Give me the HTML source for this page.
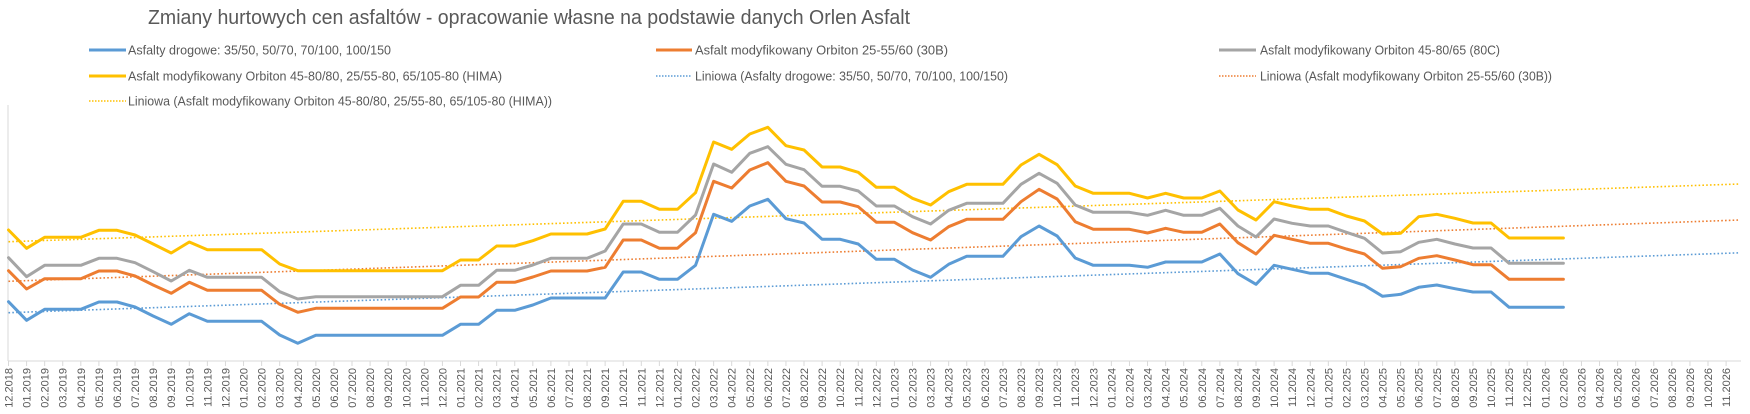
<!DOCTYPE html>
<html><head><meta charset="utf-8"><style>
html,body{margin:0;padding:0;background:#fff;}
svg{display:block;font-family:"Liberation Sans",sans-serif;}
</style></head><body>
<svg width="1750" height="414" viewBox="0 0 1750 414" xmlns="http://www.w3.org/2000/svg">
<text x="148" y="24" font-size="20" fill="#595959" textLength="762" lengthAdjust="spacingAndGlyphs">Zmiany hurtowych cen asfaltów - opracowanie własne na podstawie danych Orlen Asfalt</text>
<g font-size="12.5" fill="#595959">
<line x1="89" y1="50" x2="126" y2="50" stroke="#5b9bd5" stroke-width="3"/>
<text x="128" y="54.5" textLength="263" lengthAdjust="spacingAndGlyphs">Asfalty drogowe: 35/50, 50/70, 70/100, 100/150</text>
<line x1="656" y1="50" x2="692" y2="50" stroke="#ed7d31" stroke-width="3"/>
<text x="695" y="54.5" textLength="253" lengthAdjust="spacingAndGlyphs">Asfalt modyfikowany Orbiton 25-55/60 (30B)</text>
<line x1="1219" y1="50" x2="1256" y2="50" stroke="#a5a5a5" stroke-width="3"/>
<text x="1260" y="54.5" textLength="240" lengthAdjust="spacingAndGlyphs">Asfalt modyfikowany Orbiton 45-80/65 (80C)</text>
<line x1="89" y1="76" x2="126" y2="76" stroke="#ffc000" stroke-width="3"/>
<text x="128" y="80.5" textLength="374" lengthAdjust="spacingAndGlyphs">Asfalt modyfikowany Orbiton 45-80/80, 25/55-80, 65/105-80 (HIMA)</text>
<line x1="656" y1="76" x2="692" y2="76" stroke="#5b9bd5" stroke-width="1.5" stroke-dasharray="1.5 1.5"/>
<text x="695" y="80.5" textLength="313" lengthAdjust="spacingAndGlyphs">Liniowa (Asfalty drogowe: 35/50, 50/70, 70/100, 100/150)</text>
<line x1="1219" y1="76" x2="1256" y2="76" stroke="#ed7d31" stroke-width="1.5" stroke-dasharray="1.5 1.5"/>
<text x="1260" y="80.5" textLength="292" lengthAdjust="spacingAndGlyphs">Liniowa (Asfalt modyfikowany Orbiton 25-55/60 (30B))</text>
<line x1="89" y1="101" x2="126" y2="101" stroke="#ffc000" stroke-width="1.5" stroke-dasharray="1.5 1.5"/>
<text x="128" y="105.5" textLength="424" lengthAdjust="spacingAndGlyphs">Liniowa (Asfalt modyfikowany Orbiton 45-80/80, 25/55-80, 65/105-80 (HIMA))</text>
</g>
<!-- axes -->
<line x1="8" y1="105" x2="8" y2="361" stroke="#d9d9d9" stroke-width="1"/>
<line x1="8" y1="361" x2="1741" y2="361" stroke="#d9d9d9" stroke-width="1"/>
<g transform="translate(8.5,0) scale(18.08,1)">
<path d="M0,361v5M1,361v5M2,361v5M3,361v5M4,361v5M5,361v5M6,361v5M7,361v5M8,361v5M9,361v5M10,361v5M11,361v5M12,361v5M13,361v5M14,361v5M15,361v5M16,361v5M17,361v5M18,361v5M19,361v5M20,361v5M21,361v5M22,361v5M23,361v5M24,361v5M25,361v5M26,361v5M27,361v5M28,361v5M29,361v5M30,361v5M31,361v5M32,361v5M33,361v5M34,361v5M35,361v5M36,361v5M37,361v5M38,361v5M39,361v5M40,361v5M41,361v5M42,361v5M43,361v5M44,361v5M45,361v5M46,361v5M47,361v5M48,361v5M49,361v5M50,361v5M51,361v5M52,361v5M53,361v5M54,361v5M55,361v5M56,361v5M57,361v5M58,361v5M59,361v5M60,361v5M61,361v5M62,361v5M63,361v5M64,361v5M65,361v5M66,361v5M67,361v5M68,361v5M69,361v5M70,361v5M71,361v5M72,361v5M73,361v5M74,361v5M75,361v5M76,361v5M77,361v5M78,361v5M79,361v5M80,361v5M81,361v5M82,361v5M83,361v5M84,361v5M85,361v5M86,361v5M87,361v5M88,361v5M89,361v5M90,361v5M91,361v5M92,361v5M93,361v5M94,361v5M95,361v5" stroke="#d9d9d9" stroke-width="1" vector-effect="non-scaling-stroke" fill="none"/>
</g>
<!-- trend lines -->
<g stroke-width="1.6" stroke-dasharray="1.6 2.2" fill="none">
<line x1="8.5" y1="241.7" x2="1740" y2="184" stroke="#ffc000"/>
<line x1="8.5" y1="281.3" x2="1740" y2="220" stroke="#ed7d31"/>
<line x1="8.5" y1="312.7" x2="1740" y2="252.8" stroke="#5b9bd5"/>
</g>
<g transform="translate(8.5,0) scale(18.08,1)" fill="none" stroke-width="3" stroke-linejoin="round" stroke-linecap="round">
<polyline vector-effect="non-scaling-stroke" stroke="#5b9bd5" points="0,301.7 1,320.3 2,309.3 3,309.3 4,309.3 5,302 6,302 7,307 8,316 9,324.3 10,313.7 11,321.3 12,321.3 13,321.3 14,321.3 15,335 16,343.3 17,335.3 18,335.3 19,335.3 20,335.3 21,335.3 22,335.3 23,335.3 24,335.3 25,324.3 26,324.3 27,310.3 28,310.3 29,305 30,298 31,298 32,298 33,298 34,272 35,272 36,279.3 37,279.3 38,265.3 39,214.3 40,221.3 41,206 42,199.3 43,218.7 44,223 45,239.3 46,239.3 47,244 48,259.3 49,259.3 50,270 51,277.3 52,264.3 53,256.3 54,256.3 55,256.3 56,236.7 57,226 58,236 59,258 60,265.3 61,265.3 62,265.3 63,267.3 64,262 65,262 66,262 67,254 68,273.7 69,284.3 70,265.3 71,269.3 72,273.3 73,273.3 74,279.3 75,285.3 76,296.3 77,294.3 78,287.3 79,285 80,288.7 81,292 82,292 83,307.3 84,307.3 85,307.3 86,307.3"/>
<polyline vector-effect="non-scaling-stroke" stroke="#ed7d31" points="0,270.7 1,289 2,278.7 3,278.7 4,278.7 5,271 6,271 7,276 8,285 9,293.3 10,282.3 11,290.3 12,290.3 13,290.3 14,290.3 15,304.3 16,312.3 17,308.3 18,308.3 19,308.3 20,308.3 21,308.3 22,308.3 23,308.3 24,308.3 25,297 26,297 27,282.3 28,282.3 29,277 30,271 31,271 32,271 33,267.3 34,240 35,240 36,248.3 37,248.3 38,232.7 39,181.3 40,188 41,170 42,162.7 43,181.3 44,186 45,202 46,202 47,206.7 48,222.3 49,222.3 50,232.7 51,240 52,226.7 53,219.3 54,219.3 55,219.3 56,201.7 57,189.3 58,199 59,221.7 60,229.3 61,229.3 62,229.3 63,233 64,228.3 65,232.3 66,232.3 67,224 68,242.7 69,254 70,235.3 71,239.3 72,243.3 73,243.3 74,249 75,254 76,268.3 77,266.7 78,258.3 79,255.7 80,260 81,264.7 82,264.7 83,279.3 84,279.3 85,279.3 86,279.3"/>
<polyline vector-effect="non-scaling-stroke" stroke="#a5a5a5" points="0,257.7 1,276.7 2,265.3 3,265.3 4,265.3 5,258.3 6,258.3 7,262.7 8,271.7 9,281 10,270.3 11,277.3 12,277.3 13,277.3 14,277.3 15,291.7 16,299 17,296.7 18,296.7 19,296.7 20,296.7 21,296.7 22,296.7 23,296.7 24,296.7 25,285.3 26,285.3 27,270.3 28,270.3 29,265 30,258.3 31,258.3 32,258.3 33,251 34,224 35,224 36,232.3 37,232.3 38,215 39,164 40,172.3 41,153.3 42,146.7 43,164.3 44,169.7 45,186.3 46,186.3 47,191 48,206 49,206 50,216.7 51,224 52,210.3 53,203.3 54,203.3 55,203.3 56,184.3 57,173.3 58,183.3 59,205 60,212.3 61,212.3 62,212.3 63,215.3 64,210.3 65,215.3 66,215.3 67,208.3 68,226 69,237 70,219 71,223.3 72,226 73,226 74,232.3 75,238.3 76,253 77,251.7 78,242.3 79,239.3 80,244 81,248 82,248 83,263.3 84,263.3 85,263.3 86,263.3"/>
<polyline vector-effect="non-scaling-stroke" stroke="#ffc000" points="0,230 1,248.3 2,237.3 3,237.3 4,237.3 5,230.3 6,230.3 7,235 8,244 9,253 10,242 11,249.7 12,249.7 13,249.7 14,249.7 15,264 16,270.7 17,270.7 18,270.7 19,270.7 20,270.7 21,270.7 22,270.7 23,270.7 24,270.7 25,260 26,260 27,246 28,246 29,240.7 30,234 31,234 32,234 33,229 34,201.3 35,201.3 36,209.3 37,209.3 38,192.7 39,142 40,149.3 41,134 42,127.3 43,145.7 44,150 45,167 46,167 47,172.3 48,187.3 49,187.3 50,198.3 51,205 52,191.7 53,184.3 54,184.3 55,184.3 56,165 57,154.3 58,164.7 59,186 60,193.3 61,193.3 62,193.3 63,198 64,193.3 65,198 66,198 67,191 68,210 69,220 70,201.7 71,206 72,209.3 73,209.3 74,216 75,221 76,234 77,233.3 78,216.7 79,214.3 80,218.3 81,223 82,223 83,238 84,238 85,238 86,238"/>
</g>
<g font-size="11" fill="#595959" text-anchor="end">
<text transform="translate(12.5,368) rotate(-90)">12.2018</text>
<text transform="translate(30.6,368) rotate(-90)">01.2019</text>
<text transform="translate(48.7,368) rotate(-90)">02.2019</text>
<text transform="translate(66.7,368) rotate(-90)">03.2019</text>
<text transform="translate(84.8,368) rotate(-90)">04.2019</text>
<text transform="translate(102.9,368) rotate(-90)">05.2019</text>
<text transform="translate(121.0,368) rotate(-90)">06.2019</text>
<text transform="translate(139.1,368) rotate(-90)">07.2019</text>
<text transform="translate(157.1,368) rotate(-90)">08.2019</text>
<text transform="translate(175.2,368) rotate(-90)">09.2019</text>
<text transform="translate(193.3,368) rotate(-90)">10.2019</text>
<text transform="translate(211.4,368) rotate(-90)">11.2019</text>
<text transform="translate(229.5,368) rotate(-90)">12.2019</text>
<text transform="translate(247.5,368) rotate(-90)">01.2020</text>
<text transform="translate(265.6,368) rotate(-90)">02.2020</text>
<text transform="translate(283.7,368) rotate(-90)">03.2020</text>
<text transform="translate(301.8,368) rotate(-90)">04.2020</text>
<text transform="translate(319.9,368) rotate(-90)">05.2020</text>
<text transform="translate(337.9,368) rotate(-90)">06.2020</text>
<text transform="translate(356.0,368) rotate(-90)">07.2020</text>
<text transform="translate(374.1,368) rotate(-90)">08.2020</text>
<text transform="translate(392.2,368) rotate(-90)">09.2020</text>
<text transform="translate(410.3,368) rotate(-90)">10.2020</text>
<text transform="translate(428.3,368) rotate(-90)">11.2020</text>
<text transform="translate(446.4,368) rotate(-90)">12.2020</text>
<text transform="translate(464.5,368) rotate(-90)">01.2021</text>
<text transform="translate(482.6,368) rotate(-90)">02.2021</text>
<text transform="translate(500.7,368) rotate(-90)">03.2021</text>
<text transform="translate(518.7,368) rotate(-90)">04.2021</text>
<text transform="translate(536.8,368) rotate(-90)">05.2021</text>
<text transform="translate(554.9,368) rotate(-90)">06.2021</text>
<text transform="translate(573.0,368) rotate(-90)">07.2021</text>
<text transform="translate(591.1,368) rotate(-90)">08.2021</text>
<text transform="translate(609.1,368) rotate(-90)">09.2021</text>
<text transform="translate(627.2,368) rotate(-90)">10.2021</text>
<text transform="translate(645.3,368) rotate(-90)">11.2021</text>
<text transform="translate(663.4,368) rotate(-90)">12.2021</text>
<text transform="translate(681.5,368) rotate(-90)">01.2022</text>
<text transform="translate(699.5,368) rotate(-90)">02.2022</text>
<text transform="translate(717.6,368) rotate(-90)">03.2022</text>
<text transform="translate(735.7,368) rotate(-90)">04.2022</text>
<text transform="translate(753.8,368) rotate(-90)">05.2022</text>
<text transform="translate(771.9,368) rotate(-90)">06.2022</text>
<text transform="translate(789.9,368) rotate(-90)">07.2022</text>
<text transform="translate(808.0,368) rotate(-90)">08.2022</text>
<text transform="translate(826.1,368) rotate(-90)">09.2022</text>
<text transform="translate(844.2,368) rotate(-90)">10.2022</text>
<text transform="translate(862.3,368) rotate(-90)">11.2022</text>
<text transform="translate(880.3,368) rotate(-90)">12.2022</text>
<text transform="translate(898.4,368) rotate(-90)">01.2023</text>
<text transform="translate(916.5,368) rotate(-90)">02.2023</text>
<text transform="translate(934.6,368) rotate(-90)">03.2023</text>
<text transform="translate(952.7,368) rotate(-90)">04.2023</text>
<text transform="translate(970.7,368) rotate(-90)">05.2023</text>
<text transform="translate(988.8,368) rotate(-90)">06.2023</text>
<text transform="translate(1006.9,368) rotate(-90)">07.2023</text>
<text transform="translate(1025.0,368) rotate(-90)">08.2023</text>
<text transform="translate(1043.1,368) rotate(-90)">09.2023</text>
<text transform="translate(1061.1,368) rotate(-90)">10.2023</text>
<text transform="translate(1079.2,368) rotate(-90)">11.2023</text>
<text transform="translate(1097.3,368) rotate(-90)">12.2023</text>
<text transform="translate(1115.4,368) rotate(-90)">01.2024</text>
<text transform="translate(1133.5,368) rotate(-90)">02.2024</text>
<text transform="translate(1151.5,368) rotate(-90)">03.2024</text>
<text transform="translate(1169.6,368) rotate(-90)">04.2024</text>
<text transform="translate(1187.7,368) rotate(-90)">05.2024</text>
<text transform="translate(1205.8,368) rotate(-90)">06.2024</text>
<text transform="translate(1223.9,368) rotate(-90)">07.2024</text>
<text transform="translate(1241.9,368) rotate(-90)">08.2024</text>
<text transform="translate(1260.0,368) rotate(-90)">09.2024</text>
<text transform="translate(1278.1,368) rotate(-90)">10.2024</text>
<text transform="translate(1296.2,368) rotate(-90)">11.2024</text>
<text transform="translate(1314.3,368) rotate(-90)">12.2024</text>
<text transform="translate(1332.3,368) rotate(-90)">01.2025</text>
<text transform="translate(1350.4,368) rotate(-90)">02.2025</text>
<text transform="translate(1368.5,368) rotate(-90)">03.2025</text>
<text transform="translate(1386.6,368) rotate(-90)">04.2025</text>
<text transform="translate(1404.7,368) rotate(-90)">05.2025</text>
<text transform="translate(1422.7,368) rotate(-90)">06.2025</text>
<text transform="translate(1440.8,368) rotate(-90)">07.2025</text>
<text transform="translate(1458.9,368) rotate(-90)">08.2025</text>
<text transform="translate(1477.0,368) rotate(-90)">09.2025</text>
<text transform="translate(1495.1,368) rotate(-90)">10.2025</text>
<text transform="translate(1513.1,368) rotate(-90)">11.2025</text>
<text transform="translate(1531.2,368) rotate(-90)">12.2025</text>
<text transform="translate(1549.3,368) rotate(-90)">01.2026</text>
<text transform="translate(1567.4,368) rotate(-90)">02.2026</text>
<text transform="translate(1585.5,368) rotate(-90)">03.2026</text>
<text transform="translate(1603.5,368) rotate(-90)">04.2026</text>
<text transform="translate(1621.6,368) rotate(-90)">05.2026</text>
<text transform="translate(1639.7,368) rotate(-90)">06.2026</text>
<text transform="translate(1657.8,368) rotate(-90)">07.2026</text>
<text transform="translate(1675.9,368) rotate(-90)">08.2026</text>
<text transform="translate(1693.9,368) rotate(-90)">09.2026</text>
<text transform="translate(1712.0,368) rotate(-90)">10.2026</text>
<text transform="translate(1730.1,368) rotate(-90)">11.2026</text>
</g>
</svg>
</body></html>
